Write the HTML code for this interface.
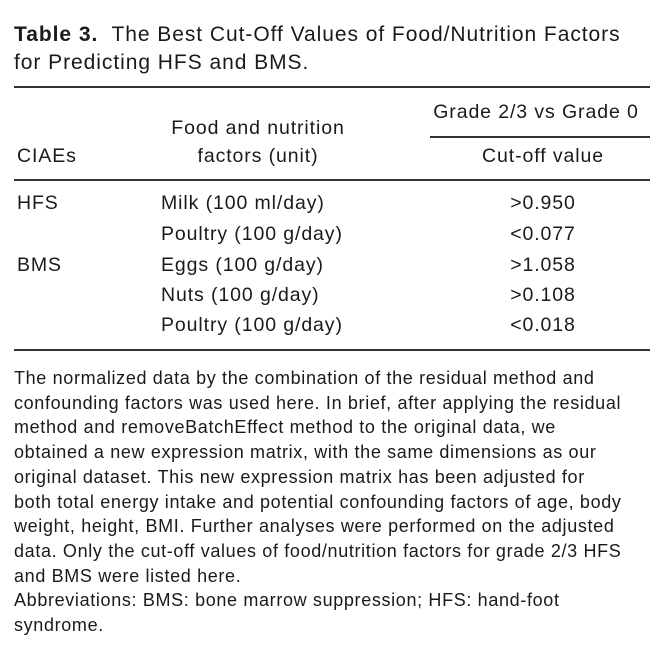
<!DOCTYPE html>
<html><head><meta charset="utf-8"><style>
body{margin:0;width:670px;height:664px;background:#fff;position:relative;font-family:"Liberation Sans",sans-serif;color:#1a1a1a;overflow:hidden}
.t{position:absolute;white-space:nowrap;line-height:1}
.r{position:absolute;background:#333;height:1.5px}
.c{text-align:center}
.b{font-size:19.5px;letter-spacing:0.9px}
</style></head><body>
<div class="t" style="left:14px;top:24px;font-size:21px;letter-spacing:0.95px"><b>Table 3.</b>&nbsp; The Best Cut-Off Values of Food/Nutrition Factors</div>
<div class="t" style="left:14px;top:52px;font-size:21px;letter-spacing:0.95px">for Predicting HFS and BMS.</div>
<div class="r" style="left:14px;width:636px;top:86px"></div>
<div class="t c b" style="left:416px;width:240px;top:103px">Grade 2/3 vs Grade 0</div>
<div class="t c b" style="left:128px;width:260px;top:119px">Food and nutrition</div>
<div class="r" style="left:430px;width:220px;top:136px"></div>
<div class="t b" style="left:17px;top:147px">CIAEs</div>
<div class="t c b" style="left:128px;width:260px;top:147px">factors (unit)</div>
<div class="t c b" style="left:423px;width:240px;top:147px">Cut-off value</div>
<div class="r" style="left:14px;width:636px;top:179px"></div>
<div class="b">
<div class="t" style="left:17px;top:194px">HFS</div>
<div class="t" style="left:161px;top:194px">Milk (100 ml/day)</div>
<div class="t c" style="left:483px;width:120px;top:194px">&gt;0.950</div>
<div class="t" style="left:161px;top:225px">Poultry (100 g/day)</div>
<div class="t c" style="left:483px;width:120px;top:225px">&lt;0.077</div>
<div class="t" style="left:17px;top:256px">BMS</div>
<div class="t" style="left:161px;top:256px">Eggs (100 g/day)</div>
<div class="t c" style="left:483px;width:120px;top:256px">&gt;1.058</div>
<div class="t" style="left:161px;top:286px">Nuts (100 g/day)</div>
<div class="t c" style="left:483px;width:120px;top:286px">&gt;0.108</div>
<div class="t" style="left:161px;top:316px">Poultry (100 g/day)</div>
<div class="t c" style="left:483px;width:120px;top:316px">&lt;0.018</div>
</div>
<div class="r" style="left:14px;width:636px;top:349px"></div>
<div class="t" style="left:14px;top:366px;font-size:18px;line-height:24.7px;letter-spacing:0.65px">The normalized data by the combination of the residual method and<br>confounding factors was used here. In brief, after applying the residual<br>method and removeBatchEffect method to the original data, we<br>obtained a new expression matrix, with the same dimensions as our<br>original dataset. This new expression matrix has been adjusted for<br>both total energy intake and potential confounding factors of age, body<br>weight, height, BMI. Further analyses were performed on the adjusted<br>data. Only the cut-off values of food/nutrition factors for grade 2/3 HFS<br>and BMS were listed here.<br>Abbreviations: BMS: bone marrow suppression; HFS: hand-foot<br>syndrome.</div>
</body></html>
